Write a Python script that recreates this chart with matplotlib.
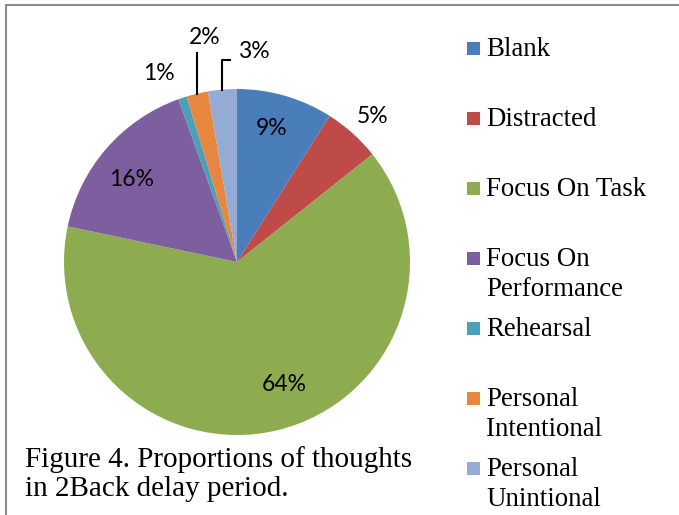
import numpy as np
import matplotlib.pyplot as plt
from matplotlib.patches import Rectangle
from matplotlib.lines import Line2D

categories = ["Blank", "Distracted", "Focus On Task", "Focus On\nPerformance",
              "Rehearsal", "Personal\nIntentional", "Personal\nUnintional"]
values = [9.0, 5.3, 64.0, 16.2, 0.8, 2.0, 2.7]
colors = ["#4a7ebb", "#be4b48", "#8cac4f", "#7d5fa0", "#4aa0b8", "#e7863f", "#94abd4"]
caption = "Figure 4. Proportions of thoughts\nin 2Back delay period."

W, H = 679, 515
fig = plt.figure(figsize=(W / 100, H / 100), dpi=100)

# pie centre (237, 262) px, radius 173 px
cx, cy, R = 237, 262, 173
ax = fig.add_axes([(cx - R) / W, (H - cy - R) / H, 2 * R / W, 2 * R / H])
wedges, _ = ax.pie(values, colors=colors, startangle=90, counterclock=False,
                   wedgeprops=dict(linewidth=0))
ax.set_xlim(-1, 1)
ax.set_ylim(-1, 1)
ax.set_aspect("equal")
ax.axis("off")

# label placement: radius factor and angle nudge (deg, clockwise)
lab_r = [0.80, 1.15, 0.76, 0.77, 1.18, 1.31, 1.22]
lab_shift = [-1.6, 1.0, -7.6, -3.0, -4.0, 5.0, 9.5]
pct_font = dict(family="Lato", fontsize=16.5, color="black")
for w, v, r, s in zip(wedges, values, lab_r, lab_shift):
    mid = np.deg2rad((w.theta1 + w.theta2) / 2 - s)
    ax.text(r * np.cos(mid), r * np.sin(mid), "%.0f%%" % v,
            ha="center", va="center", clip_on=False, **pct_font)

# leader lines for 2% and 3%
for idx, top, hx in [(5, 1.208, None), (6, 1.168, -0.04)]:
    w = wedges[idx]
    mid = np.deg2rad((w.theta1 + w.theta2) / 2)
    ex, ey = np.cos(mid), np.sin(mid)
    xs, ys = [ex, ex], [ey, top]
    if hx is not None:
        xs.append(hx)
        ys.append(top)
    ax.plot(xs, ys, color="black", linewidth=1.5, clip_on=False)


def lines_at(x, base, text, size, pitch):
    # one text per line so baselines land exactly where wanted
    for j, line in enumerate(text.split("\n")):
        fig.text(x / W, 1 - (base + j * pitch) / H, line, ha="left",
                 va="baseline", family="Liberation Serif", fontsize=size,
                 color="black")


# legend drawn by hand, one slot every 70 px
for i, (name, col) in enumerate(zip(categories, colors)):
    base = 56.5 + 70 * i
    fig.patches.append(Rectangle((467 / W, 1 - (base - 1.5) / H), 13 / W, 13 / H,
                                 facecolor=col, edgecolor="none",
                                 transform=fig.transFigure))
    lines_at(486, base, name, 19.4, 30)

lines_at(25, 467, caption, 21, 29)

# frame (left and top edges only)
fig.lines.append(Line2D([6 / W, 6 / W], [0, 1 - 5 / H], color="#8c8c8c",
                        linewidth=1.5, transform=fig.transFigure))
fig.lines.append(Line2D([6 / W, 1], [1 - 5 / H, 1 - 5 / H], color="#8c8c8c",
                        linewidth=1.5, transform=fig.transFigure))

plt.savefig("out.png", dpi=100)
